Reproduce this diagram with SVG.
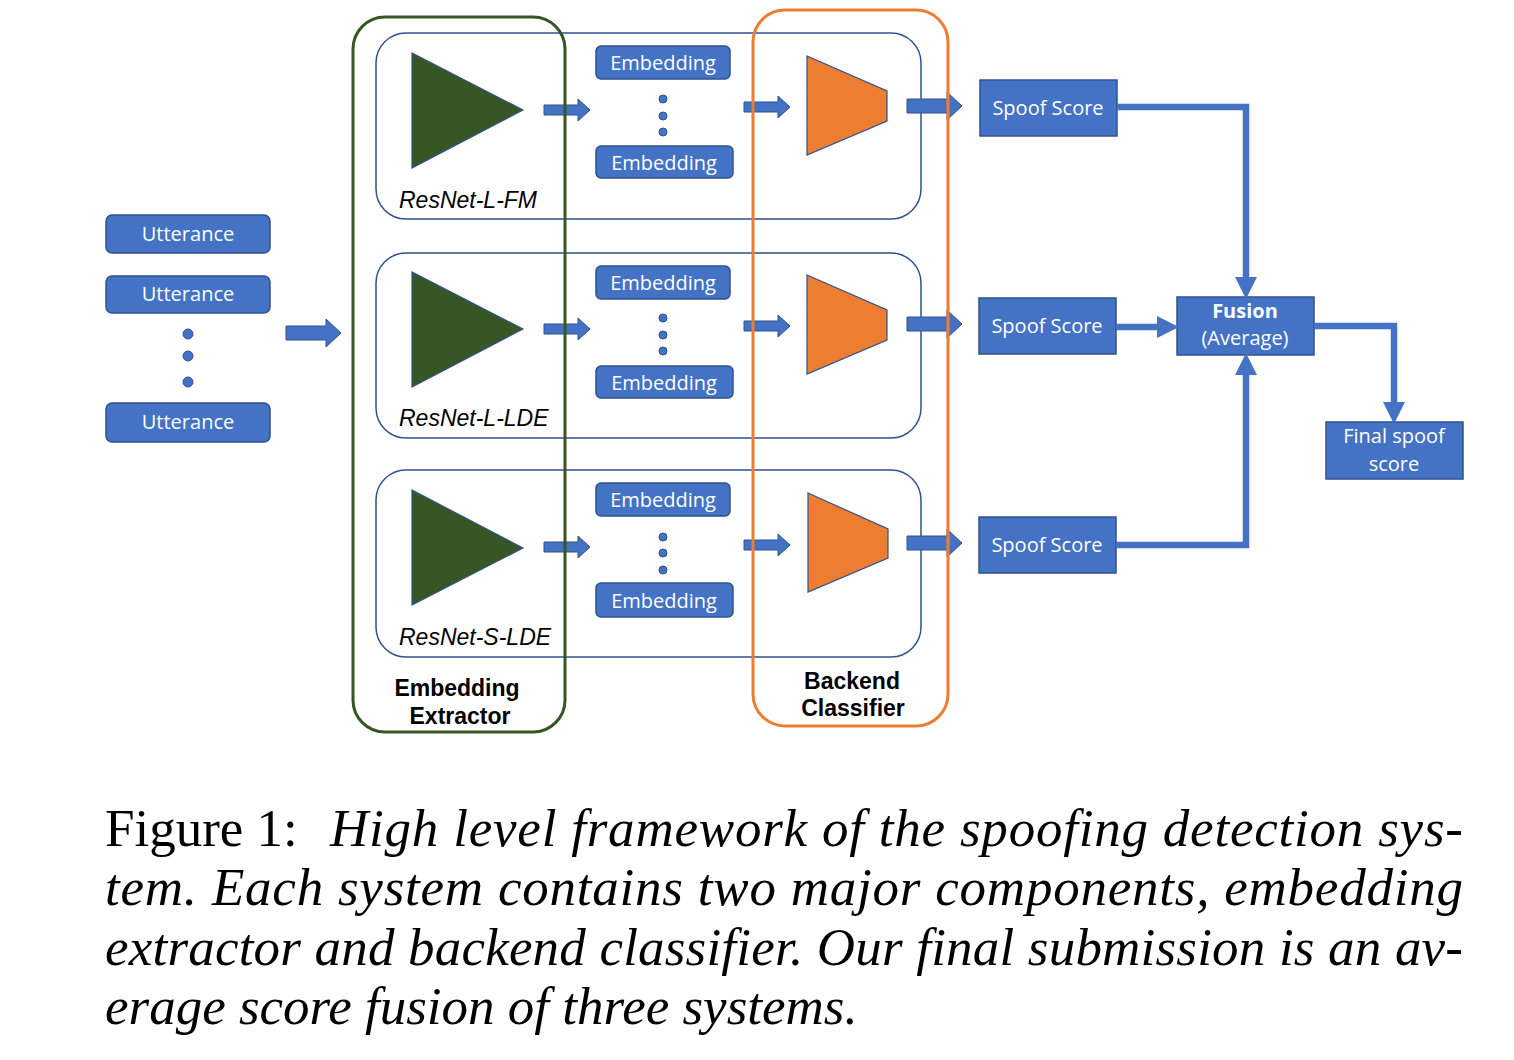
<svg xmlns="http://www.w3.org/2000/svg" xmlns:xlink="http://www.w3.org/1999/xlink" width="1514" height="1060" viewBox="0 0 1514 1060">
<style>
.blue{fill:#4472C4;stroke:#2F528F;stroke-width:1.5}
.lbl{font-family:"Open Sans","Liberation Sans",sans-serif;font-size:20px;fill:#fff;text-anchor:middle}
.model{fill:none;stroke:#2F528F;stroke-width:1.5}
.tri{fill:#375623;stroke:#2F528F;stroke-width:1.2}
.trap{fill:#ED7D31;stroke:#2F528F;stroke-width:1.2}
.dot{fill:#4472C4;stroke:#2F528F;stroke-width:1}
.arr{fill:#4472C4;stroke:#2F528F;stroke-width:1}
.net{font-family:"Liberation Sans",Arial,sans-serif;font-size:23px;font-style:italic;fill:#000}
.grp{font-family:"Liberation Sans",Arial,sans-serif;font-size:23px;font-weight:bold;fill:#000;text-anchor:middle}
.conn{fill:none;stroke:#4472C4;stroke-width:6.5;marker-end:url(#head)}
.cap{font-family:"Liberation Serif","Times New Roman",serif;font-size:53px;fill:#000}
</style>
<defs>
<marker id="head" markerUnits="userSpaceOnUse" markerWidth="22" markerHeight="22" refX="0" refY="10" orient="auto" viewBox="0 0 20 20"><path d="M0,0 L20,10 L0,20 Z" fill="#4472C4"/></marker>
<path id="sArr" class="arr" d="M0,-5 H34 V-11 L46,0 L34,11 V5 H0 Z"/>
<path id="mArr" class="arr" d="M0,-7 H40 V-14 L55,0 L40,14 V7 H0 Z"/>
</defs>
<rect width="1514" height="1060" fill="#fff"/>

<g id="utterances">
<g id="utt1"><rect class="blue" x="106" y="215" width="164" height="38" rx="6"/><text class="lbl" x="188" y="241">Utterance</text></g>
<g id="utt2"><rect class="blue" x="106" y="276" width="164" height="37" rx="6"/><text class="lbl" x="188" y="301">Utterance</text></g>
<g id="uttdots"><circle class="dot" cx="188" cy="334" r="5"/><circle class="dot" cx="188" cy="356" r="5"/><circle class="dot" cx="188" cy="382" r="5"/></g>
<g id="utt3"><rect class="blue" x="106" y="403" width="164" height="39" rx="6"/><text class="lbl" x="188" y="429">Utterance</text></g>
</g>

<g id="system1">
<rect class="model" x="376" y="33" width="545" height="186" rx="30"/>
<polygon class="tri" points="412,53 412,168 523,110"/>
<text class="net" x="399" y="208">ResNet-L-FM</text>
<g id="emb1a"><rect class="blue" x="596" y="46" width="134" height="33" rx="5"/><text class="lbl" x="663" y="70">Embedding</text></g>
<circle class="dot" cx="663" cy="99" r="4"/><circle class="dot" cx="663" cy="116" r="4"/><circle class="dot" cx="663" cy="132" r="4"/>
<g id="emb1b"><rect class="blue" x="596" y="146" width="137" height="32" rx="5"/><text class="lbl" x="664" y="170">Embedding</text></g>
<polygon class="trap" points="807,56 887,91 887,121 807,155"/>
</g>

<g id="system2">
<rect class="model" x="376" y="253" width="545" height="185" rx="30"/>
<polygon class="tri" points="412,272 412,387 523,329"/>
<text class="net" x="399" y="426">ResNet-L-LDE</text>
<g id="emb2a"><rect class="blue" x="596" y="266" width="134" height="33" rx="5"/><text class="lbl" x="663" y="290">Embedding</text></g>
<circle class="dot" cx="663" cy="318" r="4"/><circle class="dot" cx="663" cy="335" r="4"/><circle class="dot" cx="663" cy="351" r="4"/>
<g id="emb2b"><rect class="blue" x="596" y="366" width="137" height="32" rx="5"/><text class="lbl" x="664" y="390">Embedding</text></g>
<polygon class="trap" points="807,275 887,310 887,340 807,374"/>
</g>

<g id="system3">
<rect class="model" x="376" y="470" width="545" height="187" rx="30"/>
<polygon class="tri" points="412,490 412,605 523,548"/>
<text class="net" x="399" y="645">ResNet-S-LDE</text>
<g id="emb3a"><rect class="blue" x="596" y="483" width="134" height="33" rx="5"/><text class="lbl" x="663" y="507">Embedding</text></g>
<circle class="dot" cx="663" cy="537" r="4"/><circle class="dot" cx="663" cy="553" r="4"/><circle class="dot" cx="663" cy="570" r="4"/>
<g id="emb3b"><rect class="blue" x="596" y="583" width="137" height="34" rx="5"/><text class="lbl" x="664" y="608">Embedding</text></g>
<polygon class="trap" points="808,493 888,529 888,558 808,592"/>
</g>

<g id="score1"><rect class="blue" x="980" y="80" width="137" height="56"/><text class="lbl" x="1048" y="115">Spoof Score</text></g>
<g id="score2"><rect class="blue" x="979" y="298" width="137" height="56"/><text class="lbl" x="1047" y="333">Spoof Score</text></g>
<g id="score3"><rect class="blue" x="979" y="517" width="137" height="56"/><text class="lbl" x="1047" y="552">Spoof Score</text></g>
<g id="fusion"><rect class="blue" x="1177" y="297" width="137" height="58"/><text class="lbl" x="1245" y="318" font-weight="bold">Fusion</text><text class="lbl" x="1245" y="345">(Average)</text></g>
<g id="final"><rect class="blue" x="1326" y="422" width="137" height="57"/><text class="lbl" x="1394" y="443">Final spoof</text><text class="lbl" x="1394" y="471">score</text></g>

<g id="connectors">
<use xlink:href="#mArr" x="286" y="333"/>
<use xlink:href="#sArr" x="544" y="110"/>
<use xlink:href="#sArr" x="744" y="107"/>
<use xlink:href="#mArr" x="907" y="106"/>
<use xlink:href="#sArr" x="544" y="329"/>
<use xlink:href="#sArr" x="744" y="326"/>
<use xlink:href="#mArr" x="907" y="324"/>
<use xlink:href="#sArr" x="544" y="547"/>
<use xlink:href="#sArr" x="744" y="545"/>
<use xlink:href="#mArr" x="907" y="543"/>
<path class="conn" d="M1117,107 H1246 V277"/>
<path class="conn" d="M1116,327 H1157"/>
<path class="conn" d="M1116,545 H1246 V375"/>
<path class="conn" d="M1314,326 H1394 V402"/>
</g>

<g id="extractor">
<rect x="353" y="17" width="212" height="715" rx="32" fill="none" stroke="#375623" stroke-width="3"/>
<text class="grp" x="457" y="696">Embedding</text>
<text class="grp" x="460" y="724">Extractor</text>
</g>
<g id="backend">
<rect x="753" y="10" width="195" height="716" rx="32" fill="none" stroke="#ED7D31" stroke-width="3"/>
<text class="grp" x="852" y="689">Backend</text>
<text class="grp" x="853" y="716">Classifier</text>
</g>

<g id="caption">
<text class="cap" x="105" y="846">Figure 1:</text>
<text class="cap" x="330" y="846" font-style="italic" textLength="1133" lengthAdjust="spacing">High level framework of the spoofing detection sys-</text>
<text class="cap" x="105" y="905" font-style="italic" textLength="1358" lengthAdjust="spacing">tem. Each system contains two major components, embedding</text>
<text class="cap" x="105" y="965" font-style="italic" textLength="1358" lengthAdjust="spacing">extractor and backend classifier. Our final submission is an av-</text>
<text class="cap" x="105" y="1024" font-style="italic">erage score fusion of three systems.</text>
</g>
</svg>
